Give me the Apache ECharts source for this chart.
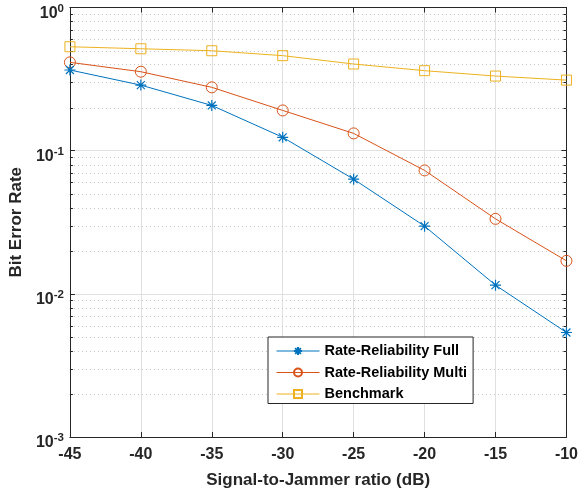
<!DOCTYPE html>
<html>
<head>
<meta charset="utf-8">
<script src="https://cdn.jsdelivr.net/npm/echarts@6/dist/echarts.min.js"></script>
<style>
html,body{margin:0;padding:0;background:#fff;}
#c{width:581px;height:495px;}
</style>
</head>
<body>
<div id="c"></div>
<script>
var xValues = [-45, -40, -35, -30, -25, -20, -15, -10];
var fullBER = [0.366, 0.287, 0.207, 0.124, 0.0632, 0.0297, 0.0115, 0.00537];
var multiBER = [0.414, 0.356, 0.277, 0.191, 0.132, 0.0728, 0.0334, 0.0170];
var benchBER = [0.532, 0.515, 0.499, 0.461, 0.403, 0.362, 0.332, 0.311];
var seriesNames = ['Rate-Reliability Full', 'Rate-Reliability Multi', 'Benchmark'];
var xTicks = [-45, -40, -35, -30, -25, -20, -15, -10];
var yDecades = [0.001, 0.01, 0.1, 1];
var minorMultipliers = [2, 3, 4, 5, 6, 7, 8, 9];

var minorVals = [];
yDecades.slice(0, 3).forEach(function (d) {
  minorMultipliers.forEach(function (m) { minorVals.push(+(d * m).toPrecision(3)); });
});

var FONT = '"Liberation Sans", Arial, Helvetica, sans-serif';
var AX = '#262626';
var colors = ['#0072BD', '#D95319', '#EDB120'];
var star = 'path://M0,-1L0,1M-1,0L1,0M-0.72,-0.72L0.72,0.72M-0.72,0.72L0.72,-0.72';

function pairs(arr) { return xValues.map(function (x, i) { return [x, arr[i]]; }); }

var chart = echarts.init(document.getElementById('c'), null, {renderer: 'canvas'});

var option = {
  animation: false,
  backgroundColor: '#fff',
  grid: {left: 68, right: 12.5, top: 7.5, bottom: 58, containLabel: false},
  legend: {
    orient: 'vertical',
    left: 268, top: 337,
    itemWidth: 43, itemHeight: 10, itemGap: 6.5,
    padding: [6.5, 6, 2, 8],
    borderColor: AX, borderWidth: 1, backgroundColor: '#fff',
    lineStyle: {width: 1},
    textStyle: {fontFamily: FONT, fontWeight: 'bold', fontSize: 14.5, color: '#000'},
    data: seriesNames
  },
  xAxis: [{
    type: 'value', min: -45, max: -10, interval: 5,
    name: 'Signal-to-Jammer ratio (dB)', nameLocation: 'middle', nameGap: 35,
    nameTextStyle: {fontFamily: FONT, fontWeight: 'bold', fontSize: 17, color: '#262626'},
    axisLine: {show: true, onZero: false, lineStyle: {color: AX, width: 1}},
    axisTick: {show: true, inside: true, length: 5, lineStyle: {color: AX}},
    axisLabel: {fontFamily: FONT, fontWeight: 'bold', fontSize: 16, color: '#262626', margin: 10},
    splitLine: {show: true, lineStyle: {color: '#e0e0e0', width: 1}}
  }, {
    type: 'value', min: -45, max: -10, interval: 5, position: 'top',
    axisLine: {show: true, onZero: false, lineStyle: {color: AX, width: 1}},
    axisTick: {show: true, inside: true, length: 5, lineStyle: {color: AX}},
    axisLabel: {show: false}, splitLine: {show: false}
  }],
  yAxis: [{
    type: 'log', logBase: 10, min: 0.001, max: 1,
    name: 'Bit Error Rate', nameLocation: 'middle', nameGap: 42,
    nameTextStyle: {fontFamily: FONT, fontWeight: 'bold', fontSize: 17, color: '#262626'},
    axisLine: {show: true, onZero: false, lineStyle: {color: AX, width: 1}},
    axisTick: {show: true, inside: true, length: 5, lineStyle: {color: AX}},
    axisLabel: {
      margin: 6,
      padding: [12, 0, 0, 0],
      formatter: function (v) {
        var e = Math.round(Math.log10(v));
        return '{b|10}{s|' + e + '}';
      },
      rich: {
        b: {fontFamily: FONT, fontWeight: 'bold', fontSize: 16, color: '#262626'},
        s: {fontFamily: FONT, fontWeight: 'bold', fontSize: 11.5, color: '#262626', padding: [0, 0, 10, 0]}
      }
    },
    splitLine: {show: true, lineStyle: {color: '#e0e0e0', width: 1}}
  }, {
    type: 'log', logBase: 10, min: 0.001, max: 1, position: 'right',
    axisLine: {show: true, onZero: false, lineStyle: {color: AX, width: 1}},
    axisTick: {show: true, inside: true, length: 5, lineStyle: {color: AX}},
    axisLabel: {show: false}, splitLine: {show: false}
  }],
  series: [
    {
      type: 'custom', name: 'minor', silent: true, z: 1,
      xAxisIndex: 0, yAxisIndex: 0,
      data: minorVals.map(function (v) { return [-45, v]; }),
      renderItem: function (params, api) {
        var v = api.value(1);
        var p0 = api.coord([-45, v]);
        var p1 = api.coord([-10, v]);
        var y = Math.round(p0[1]) + 0.5;
        return {
          type: 'group',
          children: [
            {type: 'line', shape: {x1: p0[0], y1: y, x2: p1[0], y2: y},
             style: {stroke: '#c4c4c4', lineWidth: 1, lineDash: [1, 3]}},
            {type: 'line', shape: {x1: p0[0], y1: y, x2: p0[0] + 3, y2: y},
             style: {stroke: AX, lineWidth: 1}},
            {type: 'line', shape: {x1: p1[0], y1: y, x2: p1[0] - 3, y2: y},
             style: {stroke: AX, lineWidth: 1}}
          ]
        };
      }
    },
    {
      name: seriesNames[0], type: 'line', data: pairs(fullBER), z: 4,
      symbol: star, symbolSize: 11, showAllSymbol: true,
      lineStyle: {color: colors[0], width: 1},
      itemStyle: {color: 'none', borderColor: colors[0], borderWidth: 1.2}
    },
    {
      name: seriesNames[1], type: 'line', data: pairs(multiBER), z: 3,
      symbol: 'circle', symbolSize: 11, showAllSymbol: true,
      lineStyle: {color: colors[1], width: 1},
      itemStyle: {color: 'none', borderColor: colors[1], borderWidth: 1}
    },
    {
      name: seriesNames[2], type: 'line', data: pairs(benchBER), z: 2,
      symbol: 'rect', symbolSize: 10, showAllSymbol: true,
      lineStyle: {color: colors[2], width: 1},
      itemStyle: {color: 'none', borderColor: colors[2], borderWidth: 1}
    }
  ]
};
chart.setOption(option);
</script>
</body>
</html>
